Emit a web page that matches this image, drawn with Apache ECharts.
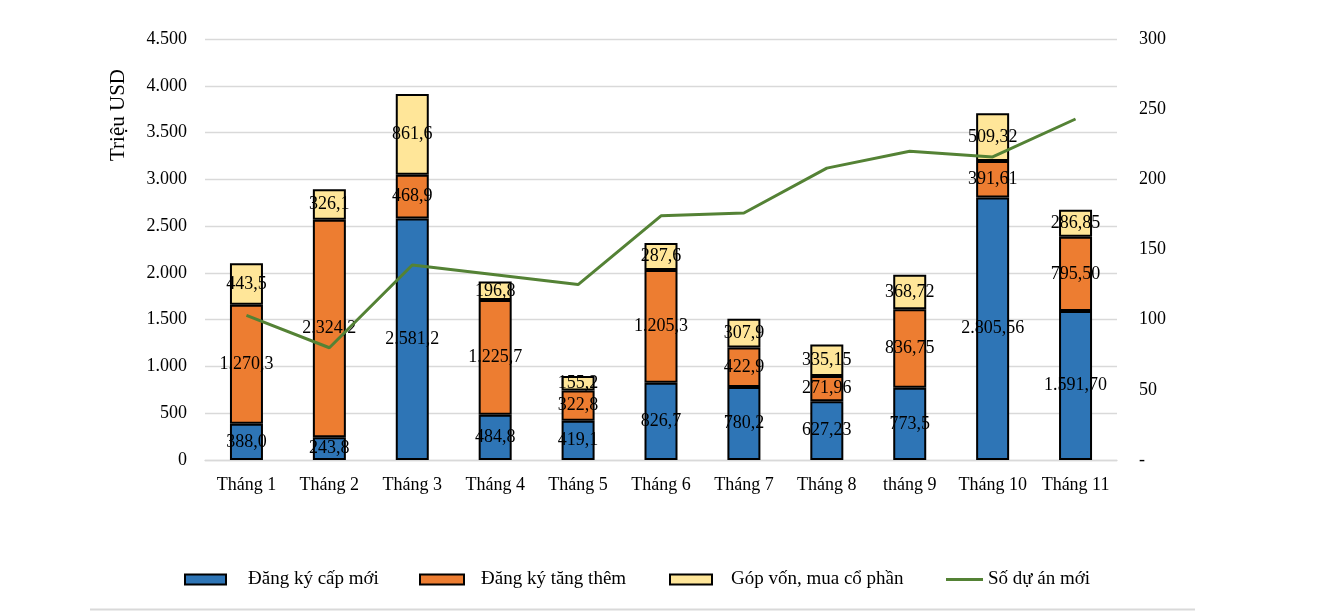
<!DOCTYPE html>
<html>
<head>
<meta charset="utf-8">
<script src="https://cdn.jsdelivr.net/npm/echarts@6/dist/echarts.min.js"></script>
<style>
html,body{margin:0;padding:0;background:#fff;}
#chart{width:1331px;height:611px;}
</style>
</head>
<body>
<div id="chart"></div>
<script>
var categories = ['Tháng 1','Tháng 2','Tháng 3','Tháng 4','Tháng 5','Tháng 6','Tháng 7','Tháng 8','tháng 9','Tháng 10','Tháng 11'];
var newReg = [388.0, 243.8, 2581.2, 484.8, 419.1, 826.7, 780.2, 627.23, 773.5, 2805.56, 1591.70];
var addReg = [1270.3, 2324.2, 468.9, 1225.7, 322.8, 1205.3, 422.9, 271.96, 836.75, 391.61, 795.50];
var capital = [443.5, 326.1, 861.6, 196.8, 155.2, 287.6, 307.9, 335.15, 368.72, 509.32, 286.85];
var newProjects = [103, 80, 139, 132, 125, 174, 176, 208, 220, 216, 243];
var newRegLabels = ['388,0','243,8','2.581,2','484,8','419,1','826,7','780,2','627,23','773,5','2.805,56','1.591,70'];
var addRegLabels = ['1.270,3','2.324,2','468,9','1.225,7','322,8','1.205,3','422,9','271,96','836,75','391,61','795,50'];
var capitalLabels = ['443,5','326,1','861,6','196,8','155,2','287,6','307,9','335,15','368,72','509,32','286,85'];
var seriesNames = ['Đăng ký cấp mới','Đăng ký tăng thêm','Góp vốn, mua cổ phần','Số dự án mới'];

var FONT = '"Liberation Serif", "Times New Roman", serif';
var chart = echarts.init(document.getElementById('chart'));

function barLabel(arr){
  return {show:true, position:'inside', color:'#000', fontFamily:FONT, fontSize:18,
    formatter:function(p){return arr[p.dataIndex];}};
}
function legendAt(left, name, w, h, pad, top){
  return {show:true, data:[{name:name, icon:'rect'}], left:left, top:top, padding:0, itemWidth:w, itemHeight:h,
    textStyle:{fontFamily:FONT, fontSize:19, color:'#000', padding:[0,0,0,pad]}};
}
var barBorder = {borderColor:'#000', borderWidth:2};

chart.setOption({
  animation:false,
  backgroundColor:'#fff',
  grid:{left:205, right:214, top:39, bottom:151},
  legend:[
    legendAt(184, seriesNames[0], 41, 10, 17, 570),
    legendAt(419, seriesNames[1], 44, 10, 12, 570),
    legendAt(669, seriesNames[2], 42, 10, 14, 570),
    legendAt(946, seriesNames[3], 37, 3, 0, 570)
  ],
  xAxis:{
    type:'category', data:categories,
    axisTick:{show:false},
    axisLine:{lineStyle:{color:'#d9d9d9', width:1.3}},
    axisLabel:{interval:0, color:'#000', fontFamily:FONT, fontSize:18, margin:16}
  },
  yAxis:[
    {type:'value', min:0, max:4500, interval:500,
     axisLine:{show:false}, axisTick:{show:false},
     splitLine:{lineStyle:{color:'#d9d9d9', width:1.3}},
     axisLabel:{color:'#000', fontFamily:FONT, fontSize:18, margin:18,
       formatter:function(v){return String(v).replace(/\B(?=(\d{3})+(?!\d))/g,'.');}}},
    {type:'value', min:0, max:300, interval:50, position:'right',
     axisLine:{show:false}, axisTick:{show:false}, splitLine:{show:false},
     axisLabel:{color:'#000', fontFamily:FONT, fontSize:18, margin:22, align:'left',
       formatter:function(v){return v===0?'-':String(v);}}}
  ],
  graphic:[
    {type:'text', x:118, y:115, rotation:Math.PI/2,
     style:{text:'Triệu USD', font:'21px "Liberation Serif", serif', fill:'#000', textAlign:'center', textVerticalAlign:'middle'}},
    {type:'line', shape:{x1:90, y1:609.5, x2:1195, y2:609.5}, style:{stroke:'#d9d9d9', lineWidth:2}}
  ],
  series:[
    {name:seriesNames[0], type:'bar', stack:'a', barWidth:33, data:newReg,
     itemStyle:Object.assign({color:'#2E75B6'}, barBorder), label:barLabel(newRegLabels)},
    {name:seriesNames[1], type:'bar', stack:'a', barWidth:33, data:addReg,
     itemStyle:Object.assign({color:'#ED7D31'}, barBorder), label:barLabel(addRegLabels)},
    {name:seriesNames[2], type:'bar', stack:'a', barWidth:33, data:capital,
     itemStyle:Object.assign({color:'#FFE699'}, barBorder), label:barLabel(capitalLabels)},
    {name:seriesNames[3], type:'line', yAxisIndex:1, data:newProjects, symbol:'none', z:10,
     lineStyle:{color:'#548235', width:3}, itemStyle:{color:'#548235'}}
  ]
});
</script>
</body>
</html>
